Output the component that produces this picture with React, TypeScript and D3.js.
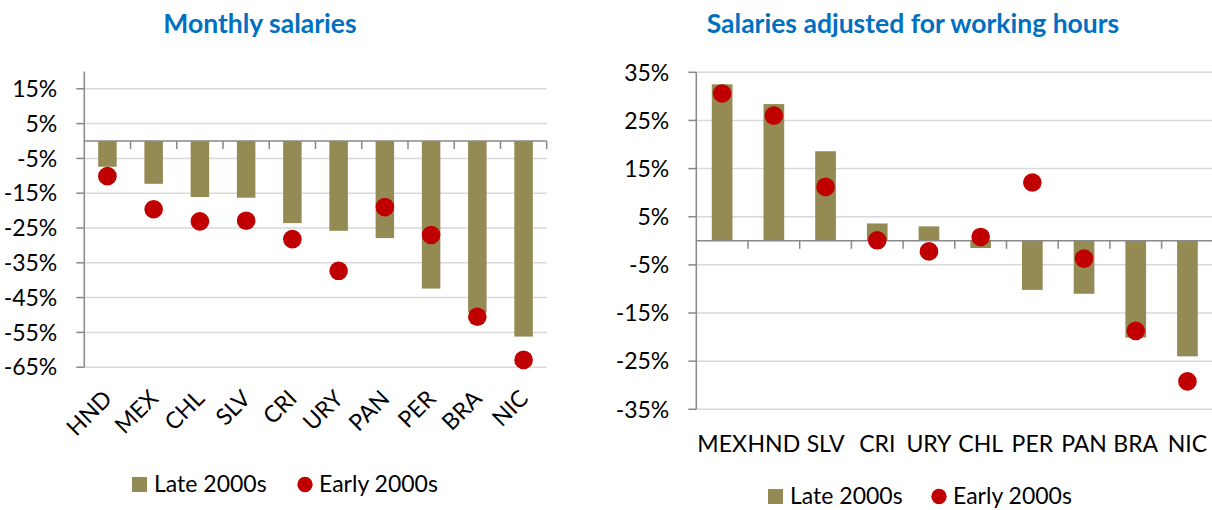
import * as d3 from 'd3';
import React, { useRef, useEffect } from 'react';

// Monthly salaries (left panel)
const monthlyCountries = ['HND', 'MEX', 'CHL', 'SLV', 'CRI', 'URY', 'PAN', 'PER', 'BRA', 'NIC'];
const monthlyLate = [-7.4, -12.3, -16.1, -16.3, -23.6, -25.8, -27.9, -42.4, -49.3, -56.2];
const monthlyEarly = [-10.1, -19.6, -23.1, -22.9, -28.2, -37.3, -19.0, -27.0, -50.5, -62.9];
const monthlyTicks = [15, 5, -5, -15, -25, -35, -45, -55, -65];

// Salaries adjusted for working hours (right panel)
const hoursCountries = ['MEX', 'HND', 'SLV', 'CRI', 'URY', 'CHL', 'PER', 'PAN', 'BRA', 'NIC'];
const hoursLate = [32.5, 28.4, 18.6, 3.6, 3.0, -1.5, -10.2, -11.0, -20.1, -24.0];
const hoursEarly = [30.6, 26.0, 11.2, 0.1, -2.2, 0.8, 12.1, -3.7, -18.7, -29.2];
const hoursTicks = [35, 25, 15, 5, -5, -15, -25, -35];

const legendLabels = ['Late 2000s', 'Early 2000s'];

const colors = {
  bar: '#948A54',
  dot: '#C00000',
  title: '#0070C0',
  grid: '#D9D9D9',
  axis: '#898989',
};

const FONT = 'Lato, "Open Sans", sans-serif';

function drawPanel(svg, opts) {
  const { title, titleX, countries, late, early, ticks, domain, xRange, yRange, rotate, legend } = opts;

  const x = d3.scaleBand().domain(countries).range(xRange).padding(0);
  const y = d3.scaleLinear().domain(domain).range(yRange);
  const barW = x.bandwidth() * 0.4;

  const g = svg.append('g');

  // title
  g.append('text')
    .attr('x', titleX)
    .attr('y', 33)
    .attr('text-anchor', 'middle')
    .style('font-family', FONT)
    .style('font-weight', 700)
    .style('font-size', '26.5px')
    .style('fill', colors.title)
    .text(title);

  // gridlines
  g.selectAll('.grid')
    .data(ticks)
    .enter()
    .append('line')
    .attr('x1', xRange[0])
    .attr('x2', xRange[1])
    .attr('y1', (d) => y(d))
    .attr('y2', (d) => y(d))
    .style('stroke', colors.grid)
    .style('stroke-width', 1.5);

  // bars
  g.selectAll('.bar')
    .data(late)
    .enter()
    .append('rect')
    .attr('x', (d, i) => x(countries[i]) + (x.bandwidth() - barW) / 2)
    .attr('width', barW)
    .attr('y', (d) => Math.min(y(d), y(0)))
    .attr('height', (d) => Math.abs(y(d) - y(0)))
    .style('fill', colors.bar);

  // category axis at zero
  g.append('line')
    .attr('x1', xRange[0])
    .attr('x2', xRange[1])
    .attr('y1', y(0))
    .attr('y2', y(0))
    .style('stroke', colors.axis)
    .style('stroke-width', 1.5);

  g.selectAll('.ctick')
    .data(d3.range(1, countries.length + 1))
    .enter()
    .append('line')
    .attr('x1', (i) => xRange[0] + i * x.bandwidth())
    .attr('x2', (i) => xRange[0] + i * x.bandwidth())
    .attr('y1', y(0))
    .attr('y2', y(0) + 8)
    .style('stroke', colors.axis)
    .style('stroke-width', 1.5);

  // value axis
  g.append('line')
    .attr('x1', xRange[0])
    .attr('x2', xRange[0])
    .attr('y1', y(domain[0]))
    .attr('y2', y(domain[1]))
    .style('stroke', colors.axis)
    .style('stroke-width', 1.5);

  g.selectAll('.vtick')
    .data(ticks)
    .enter()
    .append('line')
    .attr('x1', xRange[0] - 8)
    .attr('x2', xRange[0])
    .attr('y1', (d) => y(d))
    .attr('y2', (d) => y(d))
    .style('stroke', colors.axis)
    .style('stroke-width', 1.5);

  g.selectAll('.vlabel')
    .data(ticks)
    .enter()
    .append('text')
    .attr('x', xRange[0] - 27)
    .attr('y', (d) => y(d))
    .attr('dy', '0.36em')
    .attr('text-anchor', 'end')
    .style('font-family', FONT)
    .style('font-size', '23px')
    .style('fill', '#000')
    .text((d) => `${d}%`);

  // category labels
  const labels = g
    .selectAll('.clabel')
    .data(countries)
    .enter()
    .append('text')
    .style('font-family', FONT)
    .style('font-size', '23px')
    .style('fill', '#000')
    .text((d) => d);

  if (rotate) {
    labels
      .attr('text-anchor', 'end')
      .attr('transform', (d) => `translate(${x(d) + x.bandwidth() / 2 + 6}, 400) rotate(-45)`);
  } else {
    labels
      .attr('text-anchor', 'middle')
      .attr('x', (d) => x(d) + x.bandwidth() / 2)
      .attr('y', 452);
  }

  // dots
  g.selectAll('.dot')
    .data(early)
    .enter()
    .append('circle')
    .attr('cx', (d, i) => x(countries[i]) + x.bandwidth() / 2)
    .attr('cy', (d) => y(d))
    .attr('r', 9.3)
    .style('fill', colors.dot);

  // legend
  const lg = g.append('g').attr('transform', `translate(${legend[0]}, ${legend[1]})`);
  lg.append('rect').attr('x', 0).attr('y', -15).attr('width', 15).attr('height', 15).style('fill', colors.bar);
  lg.append('text')
    .attr('x', 22)
    .attr('y', 0)
    .style('font-family', FONT)
    .style('font-size', '23px')
    .text(legendLabels[0]);
  lg.append('circle').attr('cx', legend[2]).attr('cy', -7.5).attr('r', 7.7).style('fill', colors.dot);
  lg.append('text')
    .attr('x', legend[2] + 14)
    .attr('y', 0)
    .style('font-family', FONT)
    .style('font-size', '23px')
    .text(legendLabels[1]);
}

export default function App() {
  const ref = useRef(null);

  useEffect(() => {
    const svg = d3.select(ref.current);
    svg.selectAll('*').remove();

    drawPanel(svg, {
      title: 'Monthly salaries',
      titleX: 260,
      countries: monthlyCountries,
      late: monthlyLate,
      early: monthlyEarly,
      ticks: monthlyTicks,
      domain: [-65, 20],
      xRange: [84.3, 546.7],
      yRange: [367.2, 71.4],
      rotate: true,
      legend: [132, 492, 173],
    });

    drawPanel(svg, {
      title: 'Salaries adjusted for working hours',
      titleX: 913,
      countries: hoursCountries,
      late: hoursLate,
      early: hoursEarly,
      ticks: hoursTicks,
      domain: [-35, 35],
      xRange: [696.3, 1213.3],
      yRange: [409.3, 72.3],
      rotate: false,
      legend: [768, 504, 171],
    });
  }, []);

  return (
    <svg
      ref={ref}
      width={1212}
      height={510}
      style={{ position: 'absolute', left: 0, top: 0, background: '#fff' }}
    />
  );
}
